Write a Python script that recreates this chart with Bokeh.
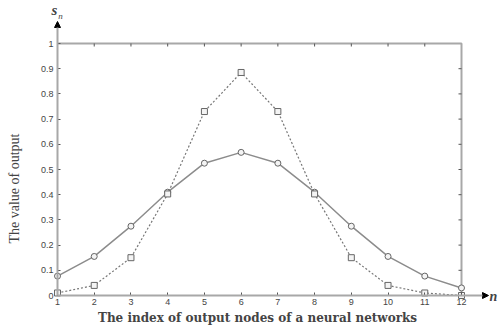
from bokeh.plotting import figure
from bokeh.models import Label, Arrow, NormalHead, FixedTicker, Range1d
from bokeh.embed import file_html
from bokeh.resources import INLINE

# ---- data ----
nodes = [1, 2, 3, 4, 5, 6, 7, 8, 9, 10, 11, 12]
solid_vals = [0.077, 0.155, 0.275, 0.41, 0.525, 0.568, 0.525, 0.41, 0.275, 0.155, 0.077, 0.03]
dashed_vals = [0.01, 0.04, 0.15, 0.403, 0.73, 0.885, 0.73, 0.403, 0.15, 0.04, 0.01, 0.0]
x_ticks = [1, 2, 3, 4, 5, 6, 7, 8, 9, 10, 11, 12]
y_ticks = [0, 0.1, 0.2, 0.3, 0.4, 0.5, 0.6, 0.7, 0.8, 0.9, 1]
y_tick_labels = ["0", "0.1", "0.2", "0.3", "0.4", "0.5", "0.6", "0.7", "0.8", "0.9", "1"]
x_title = "The index of output nodes of a neural networks"
y_title = "The value of output"

W, H = 498, 326
X0, Y0 = 57, 295          # pixel position of the data origin (1, 0)
px_x = (461 - 57) / 11.0  # pixels per x unit
px_y = 252.0              # pixels per y unit


def dx(px):
    return 1 + (px - X0) / px_x


def dy(py):
    return (Y0 - py) / px_y


p = figure(width=W, height=H, output_backend="svg", toolbar_location=None,
           x_range=Range1d(dx(0), dx(W)), y_range=Range1d(dy(H), dy(0)),
           min_border_left=0, min_border_right=0, min_border_top=0, min_border_bottom=0)
p.outline_line_color = None
p.xgrid.visible = False
p.ygrid.visible = False
p.background_fill_color = "white"
p.border_fill_color = "white"

p.xaxis.fixed_location = 0
p.yaxis.fixed_location = 1
for ax in (p.xaxis[0], p.yaxis[0]):
    ax.axis_line_color = None
    ax.major_tick_in = 3
    ax.major_tick_out = 0
    ax.minor_tick_line_color = None
    ax.major_tick_line_color = "#555555"
    ax.major_label_text_font = "Liberation Sans"
    ax.major_label_text_font_size = "9px"
    ax.major_label_text_color = "#444444"
p.xaxis.ticker = FixedTicker(ticks=x_ticks)
p.yaxis.ticker = FixedTicker(ticks=y_ticks)
p.yaxis.major_label_overrides = {t: s for t, s in zip(y_ticks, y_tick_labels)}
p.xaxis.major_label_standoff = 3
p.yaxis.major_label_standoff = 4

# frame: top and right borders
top_y = y_ticks[-1]
right_x = x_ticks[-1]
p.line([x_ticks[0], right_x, right_x], [top_y, top_y, y_ticks[0]], line_color="#a8a8a8", line_width=2)
# inward ticks on top and right
p.segment(x0=x_ticks[1:-1], y0=[top_y] * (len(x_ticks) - 2), x1=x_ticks[1:-1],
          y1=[top_y - 3 / px_y] * (len(x_ticks) - 2), line_color="#555555", line_width=1)
p.segment(x0=[right_x] * (len(y_ticks) - 2), y0=y_ticks[1:-1], x1=[right_x - 3 / px_x] * (len(y_ticks) - 2),
          y1=y_ticks[1:-1], line_color="#555555", line_width=1)

# axes with arrows
p.add_layout(Arrow(x_start=1, y_start=0, x_end=dx(488), y_end=0, line_color="#a8a8a8", line_width=2,
                   end=NormalHead(size=6, fill_color="black", line_color="black")))
p.add_layout(Arrow(x_start=1, y_start=0, x_end=1, y_end=dy(21), line_color="#a8a8a8", line_width=2,
                   end=NormalHead(size=6, fill_color="black", line_color="black")))

# series
p.line(nodes, solid_vals, line_color="#8c8c8c", line_width=1.5)
p.scatter(nodes, solid_vals, marker="circle", size=6, line_color="#666666", fill_color="#f4f4f4", line_width=1)
p.line(nodes, dashed_vals, line_color="#777777", line_width=1.2, line_dash="2 2")
p.scatter(nodes, dashed_vals, marker="square", size=6, line_color="#666666", fill_color="#f4f4f4", line_width=1)

# labels
p.add_layout(Label(x=dx(54), y=dy(9), text="s", text_font="Liberation Serif", text_font_style="bold italic",
                   text_font_size="15px", text_align="center", text_baseline="middle"))
p.add_layout(Label(x=dx(60), y=dy(15), text="n", text_font="Liberation Serif", text_font_style="italic",
                   text_font_size="9px", text_align="center", text_baseline="middle"))
p.add_layout(Label(x=dx(489), y=dy(296), text="n", text_font="Liberation Serif", text_font_style="bold italic",
                   text_font_size="14px", text_align="left", text_baseline="middle"))
p.add_layout(Label(x=dx(14), y=dy(188), text=y_title, text_font="Liberation Serif",
                   text_font_size="14px", text_align="center", text_baseline="middle", angle=90, angle_units="deg"))
p.add_layout(Label(x=dx(257), y=dy(317), text=x_title, text_font="DejaVu Serif", text_font_style="bold",
                   text_font_size="12px", text_align="center", text_baseline="middle"))

open("out.html", "w").write(file_html(p, INLINE))
